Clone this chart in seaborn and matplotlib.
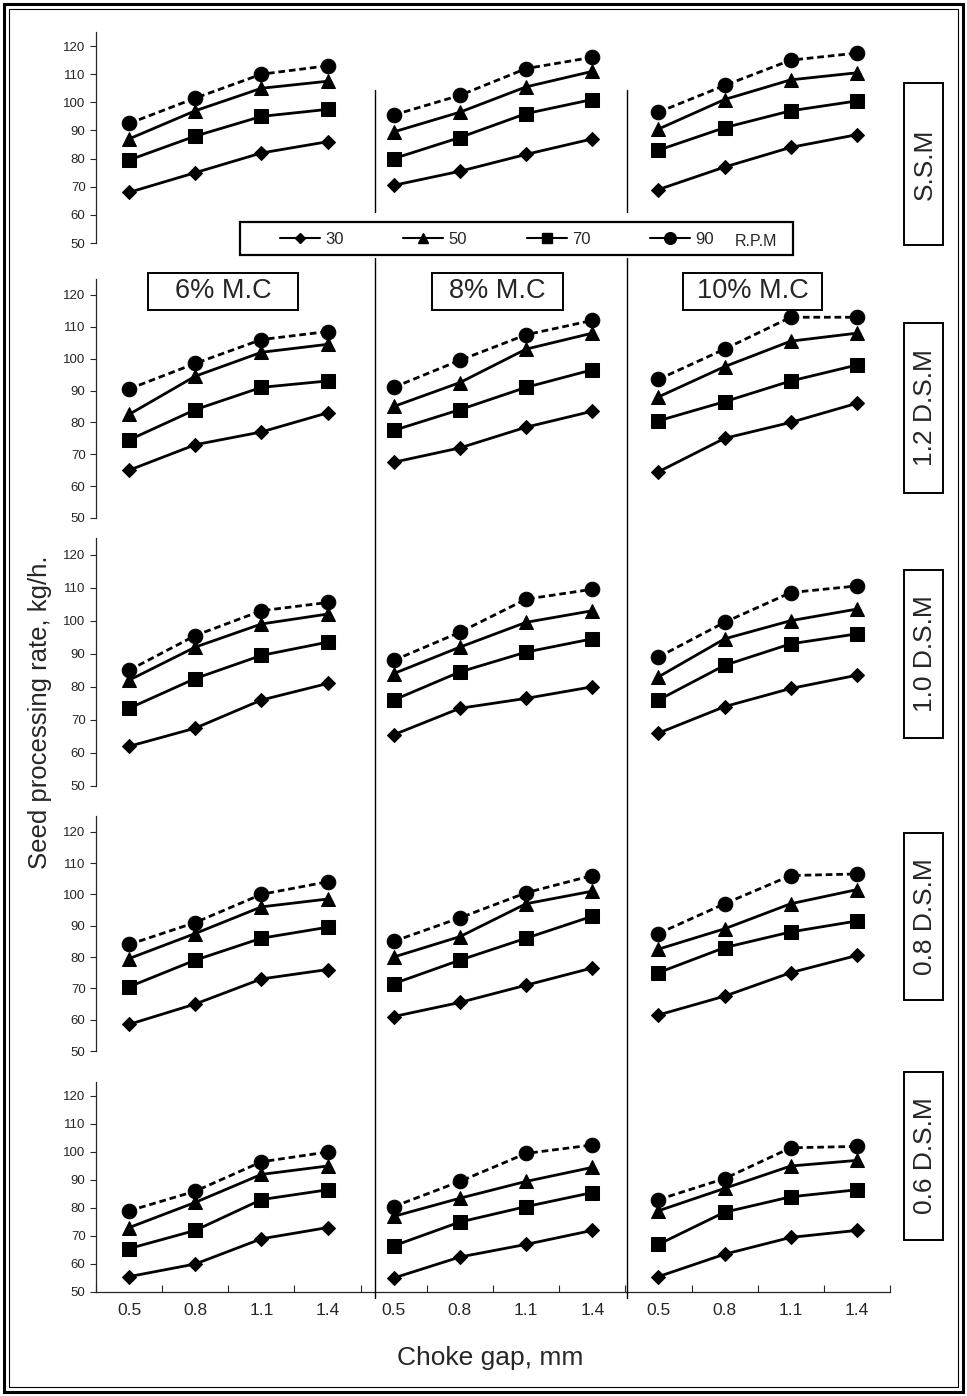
import matplotlib
matplotlib.use("Agg")
import matplotlib.pyplot as plt
from matplotlib.lines import Line2D
from matplotlib.patches import Rectangle
import seaborn as sns
import pandas as pd
import numpy as np

gaps = ["0.5", "0.8", "1.1", "1.4"]
moisture = ["6% M.C", "8% M.C", "10% M.C"]
speeds = [30, 50, 70, 90]
machines = ["S.S.M", "1.2 D.S.M", "1.0 D.S.M", "0.8 D.S.M", "0.6 D.S.M"]

# each list = 6% M.C, 8% M.C, 10% M.C blocks of 4 choke gaps
ssm_30 = [68, 75, 82, 86, 70.5, 75.5, 81.5, 87, 69, 77, 84, 88.5]
ssm_50 = [87, 97, 105, 107.5, 89.5, 96.5, 105.5, 111, 90.5, 101, 108, 110.5]
ssm_70 = [79.5, 88, 95, 97.5, 80, 87.5, 96, 101, 83, 91, 97, 100.5]
ssm_90 = [92.5, 101.5, 110, 113, 95.5, 102.5, 112, 116, 96.5, 106, 115, 117.5]

d12_30 = [65, 73, 77, 83, 67.5, 72, 78.5, 83.5, 64.5, 75, 80, 86]
d12_50 = [82.5, 94.5, 102, 104.5, 85, 92.5, 103, 108, 88, 97.5, 105.5, 108]
d12_70 = [74.5, 84, 91, 93, 77.5, 84, 91, 96.5, 80.5, 86.5, 93, 98]
d12_90 = [90.5, 98.5, 106, 108.5, 91, 99.5, 107.5, 112, 93.5, 103, 113, 113]

d10_30 = [62, 67.5, 76, 81, 65.5, 73.5, 76.5, 80, 66, 74, 79.5, 83.5]
d10_50 = [82, 92, 99, 102, 84, 92, 99.5, 103, 83, 94.5, 100, 103.5]
d10_70 = [73.5, 82.5, 89.5, 93.5, 76, 84.5, 90.5, 94.5, 76, 86.5, 93, 96]
d10_90 = [85, 95.5, 103, 105.5, 88, 96.5, 106.5, 109.5, 89, 99.5, 108.5, 110.5]

d08_30 = [58.5, 65, 73, 76, 61, 65.5, 71, 76.5, 61.5, 67.5, 75, 80.5]
d08_50 = [79.5, 87.5, 96, 98.5, 80, 86.5, 97, 101, 82.5, 89, 97, 101.5]
d08_70 = [70.5, 79, 86, 89.5, 71.5, 79, 86, 93, 75, 83, 88, 91.5]
d08_90 = [84, 91, 100, 104, 85, 92.5, 100.5, 106, 87.5, 97, 106, 106.5]

d06_30 = [55.5, 60, 69, 73, 55, 62.5, 67, 72, 55.5, 63.5, 69.5, 72]
d06_50 = [73, 82, 92, 95, 77, 83.5, 89.5, 94.5, 79, 87, 95, 97]
d06_70 = [65.5, 72, 83, 86.5, 66.5, 75, 80.5, 85.5, 67, 78.5, 84, 86.5]
d06_90 = [79, 86, 96.5, 100, 80.5, 89.5, 99.5, 102.5, 83, 90.5, 101.5, 102]

series = {
    "S.S.M": [ssm_30, ssm_50, ssm_70, ssm_90],
    "1.2 D.S.M": [d12_30, d12_50, d12_70, d12_90],
    "1.0 D.S.M": [d10_30, d10_50, d10_70, d10_90],
    "0.8 D.S.M": [d08_30, d08_50, d08_70, d08_90],
    "0.6 D.S.M": [d06_30, d06_50, d06_70, d06_90],
}

records = []
for m in machines:
    for rpm, vals in zip(speeds, series[m]):
        for i, v in enumerate(vals):
            records.append({"machine": m, "mc": moisture[i // 4], "gap": gaps[i % 4],
                            "pos": i, "rpm": rpm, "rate": v})
df = pd.DataFrame(records)

sns.set_style("ticks")
plt.rcParams["font.family"] = ["Liberation Sans", "DejaVu Sans"]

W, H = 967, 1396
fig = plt.figure(figsize=(W / 100, H / 100), dpi=100)

def fx(px):
    return px / W

def fy(py):
    return 1 - py / H

marker_style = {30: ("D", 7), 50: ("^", 9.5), 70: ("s", 9.5), 90: ("o", 10.5)}
line_style = {30: "-", 50: "-", 70: "-", 90: (0, (2.4, 1.4))}

row_px = [(32, 243), (279, 518), (538, 786), (816, 1051), (1082, 1292)]
ax_left, ax_right = 96, 890

for r, m in enumerate(machines):
    top, bot = row_px[r]
    ax = fig.add_axes([fx(ax_left), fy(bot), fx(ax_right - ax_left), (bot - top) / H])
    sub = df[df["machine"] == m]
    for rpm in speeds:
        mk, ms = marker_style[rpm]
        sns.lineplot(data=sub[sub["rpm"] == rpm], x="pos", y="rate", units="mc",
                     estimator=None, color="black", marker=mk, markersize=ms,
                     markeredgecolor="black", linestyle=line_style[rpm],
                     linewidth=2.0, ax=ax, legend=False)
    ax.set_xlim(-0.5, 11.5)
    ax.set_ylim(50, 125)
    ax.set_yticks(range(50, 121, 10))
    ax.tick_params(axis="y", labelsize=9.5, length=4, width=0.8)
    ax.set_xlabel("")
    ax.set_ylabel("")
    for s in ax.spines.values():
        s.set_linewidth(0.9)
    if r < len(machines) - 1:
        sns.despine(ax=ax, bottom=True)
        ax.set_xticks([])
    else:
        sns.despine(ax=ax)
        ax.set_xticks(np.arange(-0.5, 12, 1))
        ax.set_xticklabels([])
        ax.set_xticks(range(12), minor=True)
        ax.set_xticklabels(gaps * 3, minor=True)
        ax.tick_params(axis="x", which="major", direction="in", length=5, width=0.8)
        ax.tick_params(axis="x", which="minor", length=0, labelsize=12.5, pad=8)

# column separators
for x in (375, 627):
    fig.add_artist(Line2D([fx(x), fx(x)], [fy(90), fy(212)], color="black", lw=1))
    fig.add_artist(Line2D([fx(x), fx(x)], [fy(258), fy(1298)], color="black", lw=1))

# legend box
fig.add_artist(Rectangle((fx(240), fy(255)), fx(553), 33 / H, fill=False,
                         ec="black", lw=1.6))
handles = [Line2D([], [], color="black", lw=1.5, marker=marker_style[s][0],
                  markersize=marker_style[s][1] * 0.8) for s in speeds]
fig.legend(handles, [str(s) for s in speeds], ncol=4, frameon=False,
           loc="center", bbox_to_anchor=(fx(497), fy(239)), fontsize=12,
           handlelength=2.4, columnspacing=3.6, handletextpad=0.3)
fig.text(fx(735), fy(241), "R.P.M", fontsize=11.5, ha="left", va="center")

# moisture content labels
mc_boxes = [(148, 298), (432, 563), (683, 822)]
for (x0, x1), label in zip(mc_boxes, moisture):
    fig.add_artist(Rectangle((fx(x0), fy(310)), fx(x1 - x0), 37 / H, fill=False,
                             ec="black", lw=1.4))
    fig.text(fx((x0 + x1) / 2), fy(291.5), label, fontsize=19.5, ha="center", va="center")

# machine labels at right
m_boxes = [(83, 245), (323, 493), (570, 738), (833, 1000), (1072, 1240)]
for (y0, y1), label in zip(m_boxes, machines):
    fig.add_artist(Rectangle((fx(904), fy(y1)), fx(39), (y1 - y0) / H, fill=False,
                             ec="black", lw=1.4))
    fig.text(fx(924.5), fy((y0 + y1) / 2), label, fontsize=19, rotation=90,
             ha="center", va="center")

fig.text(fx(40), fy(712), "Seed processing rate, kg/h.", fontsize=18.5,
         rotation=90, ha="center", va="center")
fig.text(fx(490), fy(1358), "Choke gap, mm", fontsize=19, ha="center", va="center")

# double frame
fig.add_artist(Rectangle((fx(4), fy(1392)), fx(959), 1388 / H, fill=False, ec="black", lw=2.2))
fig.add_artist(Rectangle((fx(9), fy(1387)), fx(949), 1378 / H, fill=False, ec="black", lw=0.8))

fig.savefig("out.png", dpi=100)
